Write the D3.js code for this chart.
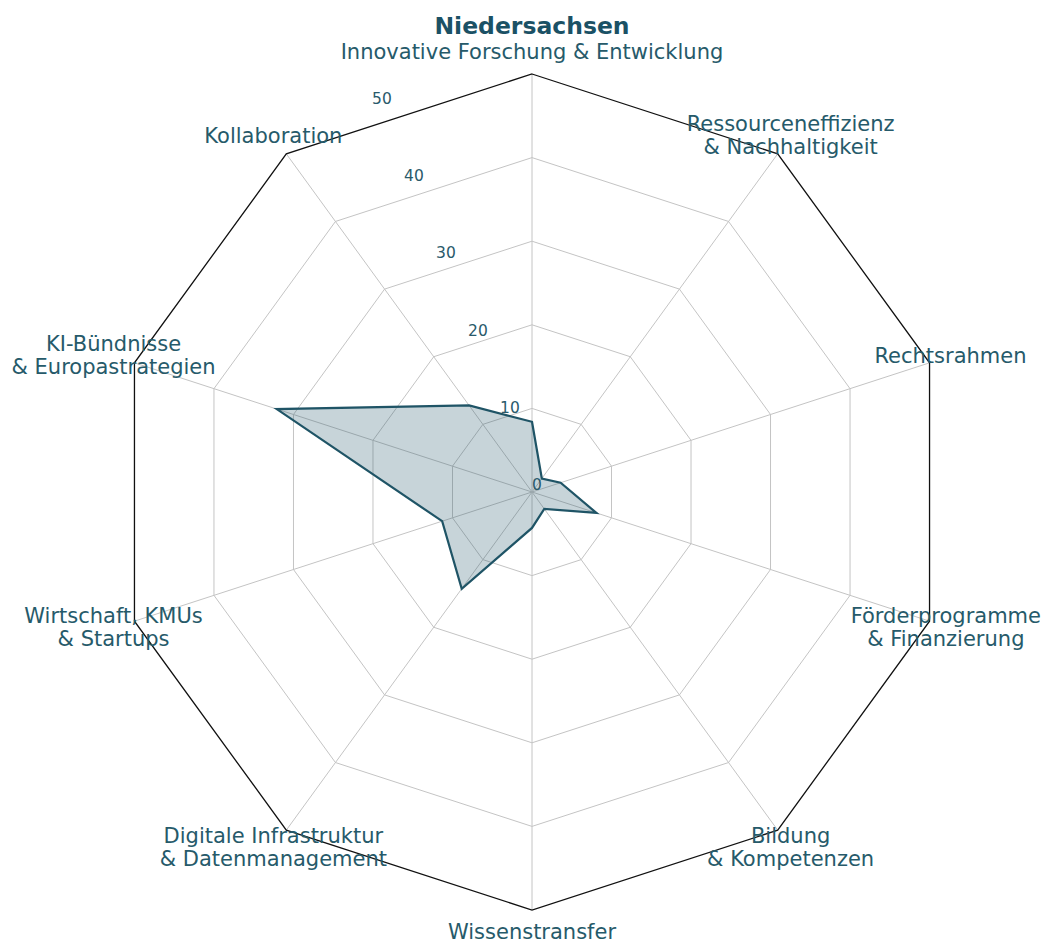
<!DOCTYPE html>
<html>
<head>
<meta charset="utf-8">
<script src="https://cdn.jsdelivr.net/npm/d3@7"></script>
<style>
  body { margin: 0; background: #fff; }
  text { font-family: "DejaVu Sans", sans-serif; }
</style>
</head>
<body>
<div id="main"></div>
<script>
const title = "Niedersachsen"

const categories = [
    ["Innovative Forschung & Entwicklung"],
    ["Ressourceneffizienz", "& Nachhaltigkeit"],
    ["Rechtsrahmen"],
    ["Förderprogramme", "& Finanzierung"],
    ["Bildung", "& Kompetenzen"],
    ["Wissenstransfer"],
    ["Digitale Infrastruktur", "& Datenmanagement"],
    ["Wirtschaft, KMUs", "& Startups"],
    ["KI-Bündnisse", "& Europastrategien"],
    ["Kollaboration"]
]

const values = [8.4, 2.0, 3.6, 8.1, 2.5, 4.3, 14.3, 11.3, 32.1, 12.8]

const ticks = [0, 10, 20, 30, 40, 50]

let width = 1044,
    height = 942,
    cx = 532,
    cy = 492,
    rMax = 418

const teal = "#1f5466"

const svg = d3.select("div#main")
    .append("svg")
    .attr("width", width)
    .attr("height", height)

const g = svg.append("g")
    .attr("transform", `translate(${cx},${cy})`)

const r = d3.scaleLinear().domain([0, 50]).range([0, rMax])
const angle = d3.scaleLinear().domain([0, categories.length]).range([0, 2 * Math.PI])

// x/y for an angle measured clockwise from the top
function px(a, rad) { return rad * Math.sin(a) }
function py(a, rad) { return -rad * Math.cos(a) }

const ringLine = d3.lineRadial()
    .angle((d, i) => angle(i))
    .radius(d => r(d))
    .curve(d3.curveLinearClosed)

// grid rings
g.selectAll(".ring")
    .data(ticks.slice(1, -1))
    .join("path")
    .attr("class", "ring")
    .attr("d", t => ringLine(categories.map(() => t)))
    .attr("fill", "none")
    .attr("stroke", "#c4c4c4")
    .attr("stroke-width", 1)

// spokes
g.selectAll(".spoke")
    .data(categories)
    .join("line")
    .attr("class", "spoke")
    .attr("x1", 0).attr("y1", 0)
    .attr("x2", (d, i) => px(angle(i), r(50)))
    .attr("y2", (d, i) => py(angle(i), r(50)))
    .attr("stroke", "#c4c4c4")
    .attr("stroke-width", 1)

// outer frame
g.append("path")
    .attr("d", ringLine(categories.map(() => 50)))
    .attr("fill", "none")
    .attr("stroke", "#111")
    .attr("stroke-width", 1.3)

// data
g.append("path")
    .datum(values)
    .attr("d", ringLine)
    .attr("fill", teal)
    .attr("fill-opacity", 0.25)
    .attr("stroke", teal)
    .attr("stroke-width", 2.2)
    .attr("stroke-linejoin", "miter")

// radial tick labels
const tickAngle = -22.5 * Math.PI / 180
g.selectAll(".rtick")
    .data(ticks)
    .join("text")
    .attr("class", "rtick")
    .attr("x", t => px(tickAngle, r(t)))
    .attr("y", t => py(tickAngle, r(t)) - 2)
    .attr("font-size", 15.5)
    .attr("fill", "#2a5a6b")
    .text(t => t)

// category labels
const pad = 22, lh = 23.5
const lab = g.selectAll(".cat")
    .data(categories)
    .join("text")
    .attr("class", "cat")
    .attr("text-anchor", "middle")
    .attr("font-size", 21)
    .attr("fill", "#265a6a")

lab.each(function (lines, i) {
    const a = angle(i)
    const y = py(a, r(50) + pad)
    const sel = d3.select(this)
    sel.selectAll("tspan")
        .data(lines)
        .join("tspan")
        .attr("y", (d, j) => y + 6.5 + (j - (lines.length - 1) / 2) * lh)
        .text(d => d)
    // keep the label inside the page
    let x = px(a, r(50) + pad)
    let half = 0
    sel.selectAll("tspan").each(function () {
        half = Math.max(half, this.getComputedTextLength() / 2)
    })
    x = Math.min(x, width - cx - 3 - half)
    x = Math.max(x, -cx + 3 + half)
    sel.selectAll("tspan").attr("x", x)
})

// title
svg.append("text")
    .attr("x", cx)
    .attr("y", 34)
    .attr("text-anchor", "middle")
    .attr("font-size", 23.5)
    .attr("font-weight", "bold")
    .attr("fill", "#1b5165")
    .text(title)
</script>
</body>
</html>
